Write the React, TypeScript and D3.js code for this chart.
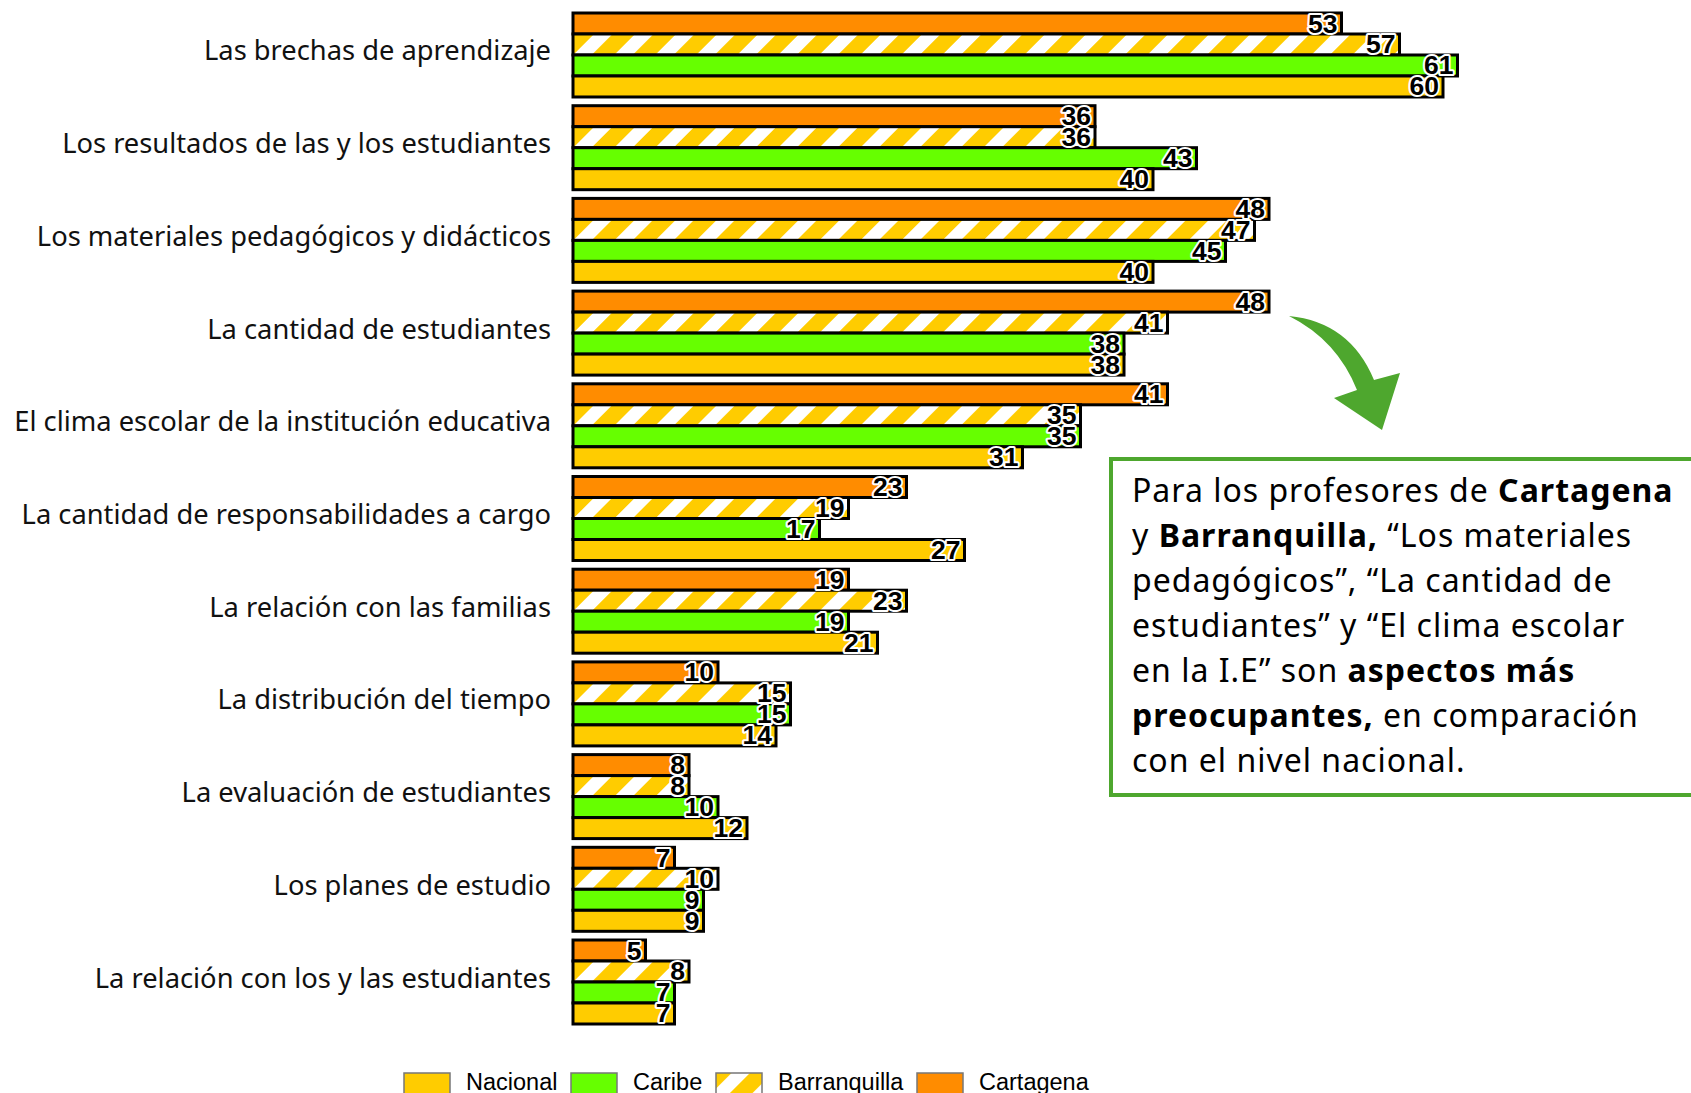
import React from "react";
import * as d3 from "d3";

const categories = [
  "Las brechas de aprendizaje",
  "Los resultados de las y los estudiantes",
  "Los materiales pedagógicos y didácticos",
  "La cantidad de estudiantes",
  "El clima escolar de la institución educativa",
  "La cantidad de responsabilidades a cargo",
  "La relación con las familias",
  "La distribución del tiempo",
  "La evaluación de estudiantes",
  "Los planes de estudio",
  "La relación con los y las estudiantes",
];

// series, top to bottom inside each group
const series = ["Cartagena", "Barranquilla", "Caribe", "Nacional"];
const cartagena = [53, 36, 48, 48, 41, 23, 19, 10, 8, 7, 5];
const barranquilla = [57, 36, 47, 41, 35, 19, 23, 15, 8, 10, 8];
const caribe = [61, 43, 45, 38, 35, 17, 19, 15, 10, 9, 7];
const nacional = [60, 40, 40, 38, 31, 27, 21, 14, 12, 9, 7];

const legendOrder = ["Nacional", "Caribe", "Barranquilla", "Cartagena"];

const W = 1691;
const H = 1093;

const fills: Record<string, string> = {
  Cartagena: "#FF8C00",
  Barranquilla: "url(#hatch)",
  Caribe: "#66FF00",
  Nacional: "#FFCC00",
};

export default function App() {
  const values: Record<string, number[]> = {
    Cartagena: cartagena,
    Barranquilla: barranquilla,
    Caribe: caribe,
    Nacional: nacional,
  };

  const x = d3.scaleLinear().domain([0, 60]).range([573, 1443]);
  const y = d3
    .scaleBand()
    .domain(categories)
    .range([13, 1024])
    .paddingInner(0.094)
    .paddingOuter(0);
  const ySub = d3.scaleBand().domain(series).range([0, y.bandwidth()]);

  // legend swatch positions
  const legendX = d3
    .scaleOrdinal<string, number>()
    .domain(legendOrder)
    .range([404, 571, 716, 917]);

  const annLines: [string, boolean][][] = [
    [["Para los profesores de ", false], ["Cartagena", true]],
    [["y ", false], ["Barranquilla,", true], [" “Los materiales", false]],
    [["pedagógicos”, “La cantidad de", false]],
    [["estudiantes” y “El clima escolar", false]],
    [["en la I.E” son ", false], ["aspectos más", true]],
    [["preocupantes,", true], [" en comparación", false]],
    [["con el nivel nacional.", false]],
  ];

  return (
    <svg
      width={W}
      height={H}
      style={{ position: "absolute", left: 0, top: 0, background: "#fff" }}
    >
      <defs>
        <pattern
          id="hatch"
          patternUnits="userSpaceOnUse"
          width="29"
          height="29"
          patternTransform="rotate(45)"
        >
          <rect width="29" height="29" fill="#FFCC00" />
          <rect width="13" height="29" fill="#fff" />
        </pattern>
      </defs>

      {/* category labels */}
      {categories.map((c) => (
        <text
          key={c}
          x={551}
          y={(y(c) as number) + y.bandwidth() / 2 - 5}
          textAnchor="end"
          dominantBaseline="central"
          fontFamily="Noto Sans"
          fontSize={27.3}
          fill="#111"
        >
          {c}
        </text>
      ))}

      {/* bars */}
      {categories.map((c, i) => (
        <g key={c} transform={`translate(0,${y(c)})`}>
          {series.map((s) => (
            <rect
              key={s}
              x={x(0)}
              y={ySub(s)}
              width={x(values[s][i]) - x(0)}
              height={ySub.bandwidth()}
              fill={fills[s]}
              stroke="#000"
              strokeWidth={3}
            />
          ))}
          {series.map((s) => (
            <text
              key={s + "l"}
              x={x(values[s][i]) - 4}
              y={(ySub(s) as number) + ySub.bandwidth() - 1.5}
              textAnchor="end"
              fontFamily="Liberation Sans"
              fontWeight="bold"
              fontSize={26.5}
              fill="#000"
              stroke="#fff"
              strokeWidth={4}
              strokeLinejoin="round"
              paintOrder="stroke"
            >
              {values[s][i]}
            </text>
          ))}
        </g>
      ))}

      {/* arrow */}
      <path
        d="M1289,316 Q1350,322 1374,380 L1400,373 L1382,430 L1334,398 L1357,390 Q1337,340 1289,316 Z"
        fill="#4EA72E"
      />

      {/* annotation box */}
      <rect
        x={1111}
        y={459}
        width={600}
        height={336}
        fill="#fff"
        stroke="#4EA72E"
        strokeWidth={4}
      />
      {annLines.map((line, li) => (
        <text
          key={li}
          x={1132}
          y={502 + li * 45}
          fontFamily="Noto Sans"
          fontSize={32}
          letterSpacing={1}
          fill="#000"
        >
          {line.map(([t, b], k) => (
            <tspan key={k} fontWeight={b ? "bold" : "normal"}>
              {t}
            </tspan>
          ))}
        </text>
      ))}

      {/* legend */}
      {legendOrder.map((s) => (
        <g key={s}>
          <rect
            x={legendX(s)}
            y={1073}
            width={46}
            height={26}
            fill={fills[s]}
            stroke="#777"
            strokeWidth={1.5}
          />
          <text
            x={legendX(s) + 62}
            y={1090}
            fontFamily="Liberation Sans"
            fontSize={23.5}
            fill="#000"
          >
            {s}
          </text>
        </g>
      ))}
    </svg>
  );
}
